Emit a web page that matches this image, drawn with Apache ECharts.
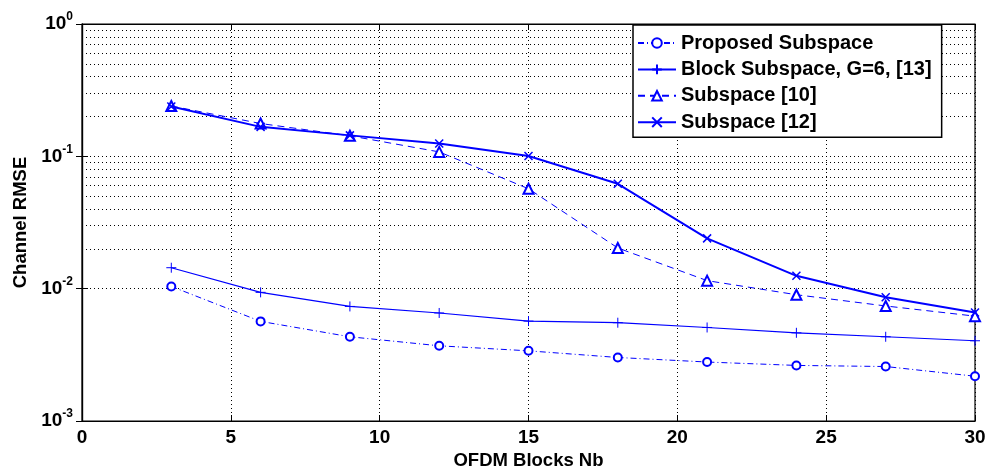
<!DOCTYPE html>
<html>
<head>
<meta charset="utf-8">
<script src="https://cdn.jsdelivr.net/npm/echarts@6/dist/echarts.min.js"></script>
<style>
  html, body { margin: 0; padding: 0; background: #fff; }
  #chart { width: 989px; height: 468px; }
</style>
</head>
<body>
<div id="chart"></div>
<script>
// values
var blocks = [3, 6, 9, 12, 15, 18, 21, 24, 27, 30];
var proposed = [0.0104, 0.00566, 0.00433, 0.0037, 0.00339, 0.00302, 0.00279, 0.00263, 0.00258, 0.00218];
var blockSub = [0.0144, 0.00938, 0.00734, 0.00655, 0.00569, 0.00553, 0.00509, 0.00464, 0.00433, 0.00404];
var sub10 = [0.240, 0.177, 0.143, 0.108, 0.0569, 0.0203, 0.0115, 0.0090, 0.0074, 0.0062];
var sub12 = [0.238, 0.167, 0.144, 0.125, 0.1006, 0.062, 0.024, 0.0125, 0.0086, 0.0066];
var seriesNames = ['Proposed Subspace', 'Block Subspace, G=6, [13]', 'Subspace [10]', 'Subspace [12]'];
var minorGrid = [0.002, 0.003, 0.004, 0.005, 0.006, 0.007, 0.008, 0.009,
                 0.02, 0.03, 0.04, 0.05, 0.06, 0.07, 0.08, 0.09,
                 0.2, 0.3, 0.4, 0.5, 0.6, 0.7, 0.8, 0.9];

var blue = '#0000ff';
var font = 'Liberation Sans';

function pairs(ys) {
  return blocks.map(function (x, i) { return [x, ys[i]]; });
}

var chart = echarts.init(document.getElementById('chart'));

var dotted = { color: '#000', width: 1, type: [1, 3] };

chart.setOption({
  animation: false,
  backgroundColor: '#fff',
  grid: {
    left: 82, right: 14, top: 24, bottom: 47,
    outerBoundsMode: 'none',
    containLabel: false,
    show: true, borderColor: '#000', borderWidth: 1.2
  },
  legend: {
    orient: 'vertical',
    left: 633, top: 25,
    data: seriesNames,
    backgroundColor: '#fff',
    borderColor: '#000',
    borderWidth: 1.5,
    borderRadius: 0,
    padding: [8, 10, 5, 4],
    itemWidth: 38,
    itemHeight: 12,
    itemGap: 6.4,
    textStyle: { fontFamily: font, fontSize: 20, fontWeight: 'bold', color: '#000', padding: [0, 0, 0, 0] }
  },
  xAxis: [{
    type: 'value',
    min: 0, max: 30, interval: 5,
    name: 'OFDM Blocks Nb',
    nameLocation: 'middle',
    nameGap: 21,
    nameTextStyle: { fontFamily: font, fontSize: 18.5, fontWeight: 'bold', color: '#000' },
    axisLine: { show: true, lineStyle: { color: '#000', width: 1.2 } },
    axisTick: { show: true, inside: true, length: 6, lineStyle: { color: '#000' } },
    axisLabel: { fontFamily: font, fontSize: 19, fontWeight: 'bold', color: '#000', margin: 7 },
    splitLine: { show: true, lineStyle: dotted }
  }, {
    type: 'value', position: 'top',
    min: 0, max: 30, interval: 5,
    axisLine: { show: true, lineStyle: { color: '#000', width: 1.2 } },
    axisTick: { show: true, inside: true, length: 6, lineStyle: { color: '#000' } },
    axisLabel: { show: false },
    splitLine: { show: false }
  }],
  yAxis: [{
    type: 'log',
    logBase: 10,
    min: 0.001, max: 1,
    name: 'Channel RMSE',
    nameLocation: 'middle',
    nameGap: 46,
    nameTextStyle: { fontFamily: font, fontSize: 18.5, fontWeight: 'bold', color: '#000' },
    axisLine: { show: true, lineStyle: { color: '#000', width: 1.2 } },
    axisTick: { show: true, inside: true, length: 6, lineStyle: { color: '#000' } },
    axisLabel: {
      margin: 9,
      formatter: function (v) {
        return '{b|10}{s|' + Math.round(Math.log10(v)) + '}';
      },
      rich: {
        b: { fontFamily: font, fontSize: 19, fontWeight: 'bold', color: '#000' },
        s: { fontFamily: font, fontSize: 12, fontWeight: 'bold', color: '#000', padding: [0, 0, 14, 0] }
      }
    },
    splitLine: { show: true, lineStyle: dotted }
  }, {
    type: 'log', logBase: 10, position: 'right',
    min: 0.001, max: 1,
    axisLine: { show: true, lineStyle: { color: '#000', width: 1.2 } },
    axisTick: { show: true, inside: true, length: 6, lineStyle: { color: '#000' } },
    axisLabel: { show: false },
    splitLine: { show: false }
  }],
  series: [
    {
      name: seriesNames[0],
      type: 'line',
      data: pairs(proposed),
      symbol: 'emptyCircle',
      symbolSize: 8,
      lineStyle: { color: blue, width: 1, type: [6, 3, 1, 3] },
      itemStyle: { color: blue, borderColor: blue, borderWidth: 1 },
      z: 3,
      markLine: {
        silent: true,
        symbol: 'none',
        label: { show: false },
        lineStyle: { color: '#000', width: 1, type: [1, 3] },
        emphasis: { disabled: true },
        data: minorGrid.map(function (v) { return { yAxis: v }; }),
        z: 1
      }
    },
    {
      name: seriesNames[1],
      type: 'line',
      data: pairs(blockSub),
      symbol: 'path://M0,5 L10,5 M5,0 L5,10',
      symbolSize: 10,
      lineStyle: { color: blue, width: 1.2, type: 'solid' },
      itemStyle: { color: blue, borderColor: blue, borderWidth: 1 },
      z: 3
    },
    {
      name: seriesNames[2],
      type: 'line',
      data: pairs(sub10),
      symbol: 'emptyTriangle',
      symbolSize: 10,
      lineStyle: { color: blue, width: 1, type: [7, 5] },
      itemStyle: { color: blue, borderColor: blue, borderWidth: 1 },
      z: 3
    },
    {
      name: seriesNames[3],
      type: 'line',
      data: pairs(sub12),
      symbol: 'path://M0,0 L10,10 M10,0 L0,10',
      symbolSize: 8,
      lineStyle: { color: blue, width: 2, type: 'solid' },
      itemStyle: { color: blue, borderColor: blue, borderWidth: 1.5 },
      z: 4
    }
  ]
});
</script>
</body>
</html>
